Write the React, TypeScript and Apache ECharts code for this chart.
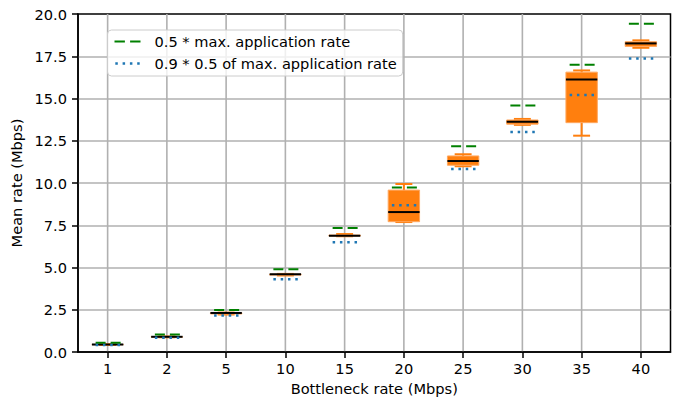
import React, { useEffect, useRef } from "react";
import * as echarts from "echarts";

const FONT = "DejaVu Sans";
const FS = 14.6;

const categories = ["1", "2", "5", "10", "15", "20", "25", "30", "35", "40"];
const halfMaxRate = [0.55, 1.03, 2.49, 4.9, 7.33, 9.74, 12.17, 14.58, 17.0, 19.42];
const scaledHalfMaxRate = [0.42, 0.85, 2.16, 4.31, 6.5, 8.68, 10.83, 13.02, 15.2, 17.37];
const boxMin = [0.42, 0.87, 2.22, 4.53, 6.85, 7.69, 10.99, 13.44, 12.8, 18.0];
const boxQ1 = [0.43, 0.88, 2.25, 4.55, 6.86, 7.71, 11.05, 13.48, 13.57, 18.08];
const boxMedian = [0.44, 0.9, 2.31, 4.6, 6.88, 8.28, 11.3, 13.62, 16.12, 18.26];
const boxQ3 = [0.45, 0.91, 2.32, 4.61, 6.92, 9.58, 11.6, 13.73, 16.56, 18.36];
const boxMax = [0.46, 0.92, 2.33, 4.62, 6.98, 9.94, 11.7, 13.79, 16.66, 18.44];

const GREEN_NAME = "0.5 * max. application rate";
const BLUE_NAME = "0.9 * 0.5 of max. application rate";

export default function App() {
  const ref = useRef<HTMLDivElement>(null);
  useEffect(() => {
    document.body.style.margin = "0";
    if (!ref.current) return;
    const chart = echarts.init(ref.current, undefined, { renderer: "svg" });

    const gridData = categories.map((_, i) => [i]);
    const boxData = categories.map((_, i) => [i, boxMin[i], boxQ1[i], boxMedian[i], boxQ3[i], boxMax[i]]);
    const greenData = categories.map((_, i) => [i, halfMaxRate[i]]);
    const blueData = categories.map((_, i) => [i, scaledHalfMaxRate[i]]);

    const option: any = {
      animation: false,
      backgroundColor: "#ffffff",
      textStyle: { fontFamily: FONT },
      grid: {
        left: 78,
        right: 9.5,
        top: 14,
        bottom: 46,
        show: true,
        containLabel: false,
        outerBoundsMode: "none",
        borderColor: "#000",
        borderWidth: 1.5,
        backgroundColor: "transparent",
      },
      legend: {
        orient: "vertical",
        left: 107.5,
        top: 30,
        backgroundColor: "rgba(255,255,255,0.8)",
        borderColor: "#cccccc",
        borderWidth: 1,
        borderRadius: 4,
        padding: [4, 6, 5, 7],
        itemGap: 7,
        itemWidth: 26,
        itemHeight: 2.5,
        textStyle: { fontFamily: FONT, fontSize: FS, color: "#000", padding: [0, 0, 0, 9] },
        data: [
          { name: GREEN_NAME, icon: "path://M0,0H10V2H0Z M15,0H25V2H15Z" },
          {
            name: BLUE_NAME,
            icon: "path://M0,0h2.5v2.5h-2.5z M7.3,0h2.5v2.5h-2.5z M14.6,0h2.5v2.5h-2.5z M21.9,0h2.5v2.5h-2.5z",
          },
        ],
      },
      xAxis: {
        type: "category",
        data: categories,
        boundaryGap: true,
        axisLine: { show: true, lineStyle: { color: "#000", width: 1.5 } },
        axisTick: { show: true, alignWithLabel: true, length: 6, lineStyle: { color: "#000", width: 1.5 } },
        axisLabel: { color: "#000", fontSize: FS, margin: 9, fontFamily: FONT },
        splitLine: { show: false },
        name: "Bottleneck rate (Mbps)",
        nameLocation: "middle",
        nameGap: 28,
        nameTextStyle: { color: "#000", fontSize: FS, fontFamily: FONT },
      },
      yAxis: {
        type: "value",
        min: 0,
        max: 20,
        interval: 2.5,
        axisLine: { show: true, lineStyle: { color: "#000", width: 1.5 } },
        axisTick: { show: true, length: 6, lineStyle: { color: "#000", width: 1.5 } },
        axisLabel: {
          color: "#000",
          fontSize: FS,
          margin: 11,
          fontFamily: FONT,
          formatter: (v: number) => v.toFixed(1),
        },
        splitLine: {
          show: true,
          showMinLine: false,
          showMaxLine: false,
          lineStyle: { color: "#b0b0b0", width: 1.6 },
        },
        name: "Mean rate (Mbps)",
        nameLocation: "middle",
        nameGap: 48,
        nameTextStyle: { color: "#000", fontSize: FS, fontFamily: FONT },
      },
      series: [
        {
          type: "custom",
          name: "vgrid",
          silent: true,
          z: 0,
          data: gridData,
          encode: { x: 0 },
          renderItem: (params: any, api: any) => {
            const cs = params.coordSys;
            const p = api.coord([api.value(0), 0]);
            return {
              type: "line",
              shape: { x1: p[0], y1: cs.y, x2: p[0], y2: cs.y + cs.height },
              style: { stroke: "#b0b0b0", lineWidth: 1.6 },
            };
          },
        },
        {
          type: "custom",
          name: "box",
          z: 2,
          data: boxData,
          encode: { x: 0, y: [1, 2, 3, 4, 5] },
          renderItem: (_params: any, api: any) => {
            const i = api.value(0);
            const pMin = api.coord([i, api.value(1)]);
            const pQ1 = api.coord([i, api.value(2)]);
            const pMed = api.coord([i, api.value(3)]);
            const pQ3 = api.coord([i, api.value(4)]);
            const pMax = api.coord([i, api.value(5)]);
            const band = api.size([1, 0])[0];
            const half = band * 0.265;
            const capHalf = band * 0.143;
            const x = pMed[0];
            const orange = "#ff7f0e";
            return {
              type: "group",
              children: [
                {
                  type: "line",
                  shape: { x1: x, y1: pMin[1], x2: x, y2: pQ1[1] },
                  style: { stroke: orange, lineWidth: 2 },
                },
                {
                  type: "line",
                  shape: { x1: x, y1: pQ3[1], x2: x, y2: pMax[1] },
                  style: { stroke: orange, lineWidth: 2 },
                },
                {
                  type: "line",
                  shape: { x1: x - capHalf, y1: pMin[1], x2: x + capHalf, y2: pMin[1] },
                  style: { stroke: orange, lineWidth: 2 },
                },
                {
                  type: "line",
                  shape: { x1: x - capHalf, y1: pMax[1], x2: x + capHalf, y2: pMax[1] },
                  style: { stroke: orange, lineWidth: 2 },
                },
                {
                  type: "rect",
                  shape: { x: x - half, y: pQ3[1], width: half * 2, height: pQ1[1] - pQ3[1] },
                  style: { fill: orange, stroke: "#ffa860", lineWidth: 1 },
                },
                {
                  type: "line",
                  shape: { x1: x - half, y1: pMed[1], x2: x + half, y2: pMed[1] },
                  style: { stroke: "#000", lineWidth: 2 },
                },
              ],
            };
          },
        },
        {
          type: "custom",
          name: GREEN_NAME,
          z: 3,
          itemStyle: { color: "#008000" },
          data: greenData,
          encode: { x: 0, y: 1 },
          renderItem: (_params: any, api: any) => {
            const p = api.coord([api.value(0), api.value(1)]);
            return {
              type: "line",
              shape: { x1: p[0] - 12, y1: p[1], x2: p[0] + 13, y2: p[1] },
              style: { stroke: "#008000", lineWidth: 2, lineDash: [10, 5] },
            };
          },
        },
        {
          type: "custom",
          name: BLUE_NAME,
          z: 4,
          itemStyle: { color: "#1f77b4" },
          data: blueData,
          encode: { x: 0, y: 1 },
          renderItem: (_params: any, api: any) => {
            const p = api.coord([api.value(0), api.value(1)]);
            return {
              type: "line",
              shape: { x1: p[0] - 12, y1: p[1], x2: p[0] + 13, y2: p[1] },
              style: { stroke: "#1f77b4", lineWidth: 2.5, lineDash: [2.5, 4.8] },
            };
          },
        },
      ],
    };
    chart.setOption(option);
    return () => chart.dispose();
  }, []);
  return <div ref={ref} style={{ width: 680, height: 398 }} />;
}
